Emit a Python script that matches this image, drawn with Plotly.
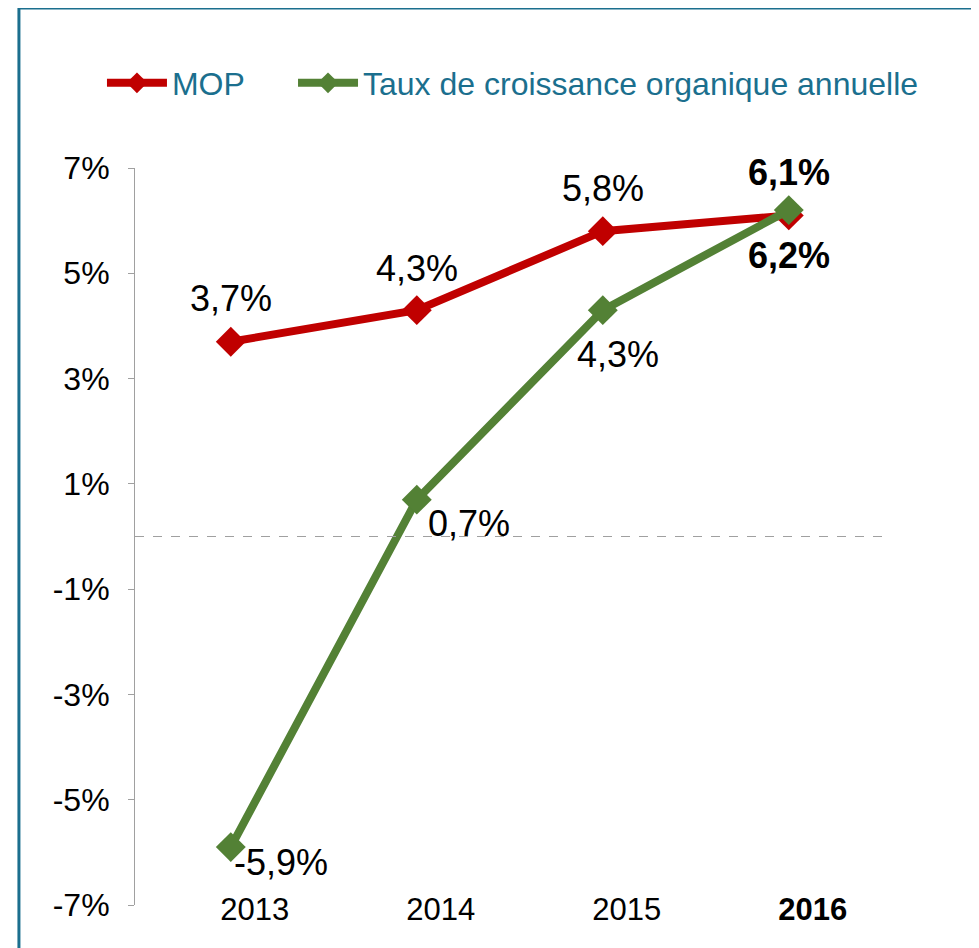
import plotly.graph_objects as go

# --- Datos ---
annees = ["2013", "2014", "2015", "2016"]
mop = [3.7, 4.3, 5.8, 6.1]
croissance = [-5.9, 0.7, 4.3, 6.2]
y_ticks = [-7, -5, -3, -1, 1, 3, 5, 7]

# décalages (px) des étiquettes par rapport aux points
dx_mop = [0, 0, 0, 0]
dy_mop = [43, 42, 43, 43]
dx_crois = [50, 52, 15, 0]
dy_crois = [-15, -24, -44, -45]

ROUGE = "#C00000"
VERT = "#538135"
BLEU = "#1B6F8E"
POLICE = "Liberation Sans, Arial, sans-serif"


def etiquette(v, gras=False):
    s = f"{v:.1f}%".replace(".", ",")
    return f"<b>{s}</b>" if gras else s


fig = go.Figure()

fig.add_trace(go.Scatter(
    x=annees, y=mop, mode="lines+markers", name="MOP",
    line=dict(color=ROUGE, width=8),
    marker=dict(symbol="diamond", size=23, color=ROUGE),
    cliponaxis=False, legend="legend",
))

fig.add_trace(go.Scatter(
    x=annees, y=croissance, mode="lines+markers",
    name="Taux de croissance organique annuelle",
    line=dict(color=VERT, width=8),
    marker=dict(symbol="diamond", size=23, color=VERT),
    cliponaxis=False, legend="legend2",
))

# Étiquettes de données (x = indice de catégorie)
for serie, dxs, dys in [(mop, dx_mop, dy_mop), (croissance, dx_crois, dy_crois)]:
    for i, v in enumerate(serie):
        fig.add_annotation(x=i, y=v, text=etiquette(v, i == len(serie) - 1),
                           showarrow=False, xshift=dxs[i], yshift=dys[i],
                           font=dict(size=36, color="black", family=POLICE))

# Ligne zéro pointillée
fig.add_shape(type="line", xref="paper", yref="y", x0=0, x1=1.015, y0=0, y1=0,
              line=dict(color="#A0A0A0", width=1, dash="dash"))

# Cadre
fig.add_shape(type="rect", xref="paper", yref="paper",
              x0=-0.156, x1=1.1317, y0=-0.1, y1=1.2171,
              line=dict(color=BLEU, width=3), layer="below")

legende = dict(orientation="h", y=1.1153, yanchor="middle", xanchor="left",
               font=dict(size=32, color=BLEU, family=POLICE),
               itemwidth=60, bgcolor="rgba(0,0,0,0)")

fig.update_layout(
    width=979, height=948,
    margin=dict(l=127, r=108, t=160, b=51),
    paper_bgcolor="white", plot_bgcolor="white",
    font=dict(family=POLICE, color="black"),
    showlegend=True,
    legend=dict(legende, x=-0.0444),
    legend2=dict(legende, x=0.2124),
    xaxis=dict(type="category", range=[-0.515, 3.485], showline=False, showgrid=False,
               ticks="", zeroline=False,
               tickvals=annees,
               ticktext=annees[:-1] + [f"<b>{annees[-1]}</b>"],
               tickfont=dict(size=31, family=POLICE), ticklabelstandoff=-17,
               ticklabelshift=24),
    yaxis=dict(range=[-7, 7], showline=True, linecolor="#A0A0A0", linewidth=1,
               showgrid=False, zeroline=False, ticks="outside", ticklen=6,
               tickcolor="#A0A0A0", tickvals=y_ticks,
               ticktext=[f"{v}%" for v in y_ticks],
               tickfont=dict(size=32, family=POLICE), ticklabelstandoff=12),
)

fig.write_html("out.html")
